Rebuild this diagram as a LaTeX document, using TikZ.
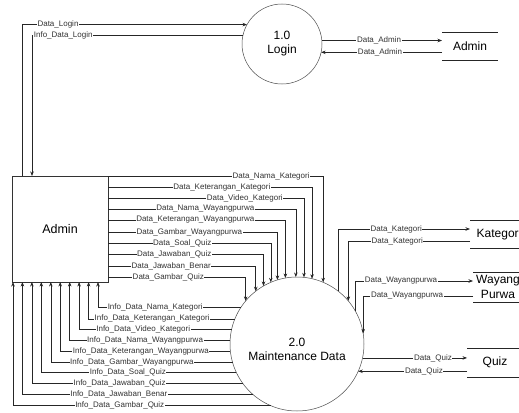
\documentclass[tikz,border=0pt]{standalone}
\usepackage{fontspec}
\setmainfont{Liberation Sans}
\usetikzlibrary{arrows.meta}
\begin{document}
\begin{tikzpicture}[x=1pt,y=-1pt,
  flow/.style={draw=black!85, line width=0.6pt},
  arr/.style={flow, -{Stealth[length=4.5pt,width=3.5pt]}},
  lbl/.style={fill=white, inner sep=0.6pt, font=\fontsize{8}{8}\selectfont, text=black!80},
  process/.style={circle, draw=black!70, line width=0.5pt, inner sep=0pt, outer sep=0pt,
                  align=center, font=\fontsize{12}{14}\selectfont},
  ptext/.style={align=center, inner sep=0pt, font=\fontsize{12}{14}\selectfont},
  entity/.style={rectangle, draw=black!80, line width=0.6pt, inner sep=0pt, outer sep=0pt,
                 font=\fontsize{12.5}{14}\selectfont},
  store/.style={inner sep=0pt, outer sep=0pt, align=center, font=\fontsize{12}{14.5}\selectfont},
]
\fill[white] (0,0) rectangle (519,412);
\useasboundingbox (0,0) rectangle (519,412);

% external entity, processes and data stores
\node[entity, minimum width=96pt, minimum height=106pt] (admin) at (60,229) {Admin};
\node[process, minimum size=80pt] (login) at (282,44) {1.0\\Login};
\node[process, minimum size=134pt] (maint) at (297,344) {};
\node[ptext] (maint-text) at ([yshift=-5pt]maint.center) {2.0\\Maintenance Data};

\node[store, minimum width=56pt, minimum height=28pt] (sadmin) at (470,46) {Admin};
\node[store, minimum width=58pt, minimum height=28pt] (skat) at (499,234) {Kategori};
\node[store, minimum width=50pt, minimum height=30pt] (swp) at (498,287) {Wayang\\Purwa};
\node[store, minimum width=56pt, minimum height=29pt] (squiz) at (495,362.5) {Quiz};

% open-ended store outlines
\draw[flow] (sadmin.north west) -- (sadmin.north east) (sadmin.south west) -- (sadmin.south east);
\foreach \s in {skat,swp,squiz}
  \draw[flow] (\s.north west) -- ++(60,0) (\s.south west) -- ++(60,0);

% login flows
\draw[arr] ([xshift=10pt]admin.north west) |- (login.151.6) node[lbl,pos=0.58]{Data\_Login};
\draw[arr] (login.168.5) -| ([xshift=20pt]admin.north west) node[lbl,pos=0.426]{Info\_Data\_Login};
\draw[arr] (login.5.7) -- (login.5.7 -| sadmin.west) node[lbl,pos=0.476]{Data\_Admin};
\draw[arr] (login.348.5 -| sadmin.west) -- (login.348.5) node[lbl,pos=0.513]{Data\_Admin};

% data entered by the admin
\foreach \dy/\ang/\p/\txt in {
   0/67.2/0.379/Data\_Nama\_Kategori,
  11/77.1/0.279/Data\_Keterangan\_Kategori,
  22/84.9/0.349/Data\_Video\_Kategori,
  33/91.7/0.259/Data\_Nama\_Wayangpurwa,
  44/100.3/0.246/Data\_Keterangan\_Wayangpurwa,
  56/107.4/0.240/Data\_Gambar\_Wayangpurwa,
  67/113.8/0.228/Data\_Soal\_Quiz,
  78/120.5/0.213/Data\_Jawaban\_Quiz,
  90/128.8/0.214/Data\_Jawaban\_Benar,
 101/140.9/0.219/Data\_Gambar\_Quiz}
  \draw[arr] ([yshift=-\dy pt]admin.north east) -| (maint.\ang) node[lbl,pos=\p]{\txt};

% information returned to the admin
\foreach \ang/\dx/\p/\txt in {
  147.5/86/0.30/Info\_Data\_Nama\_Kategori,
  158.1/76.6/0.283/Info\_Data\_Keterangan\_Kategori,
  167.9/67.1/0.290/Info\_Data\_Video\_Kategori,
  177.4/57.7/0.265/Info\_Data\_Nama\_Wayangpurwa,
  186.9/48.2/0.263/Info\_Data\_Keterangan\_Wayangpurwa,
  196.5/38.8/0.277/Info\_Data\_Gambar\_Wayangpurwa,
  205.6/29.3/0.278/Info\_Data\_Soal\_Quiz,
  216.7/19.9/0.292/Info\_Data\_Jawaban\_Quiz,
  229.6/10.4/0.291/Info\_Data\_Jawaban\_Benar,
  247.7/1/0.293/Info\_Data\_Gambar\_Quiz}
  \draw[arr] (maint.\ang) -| ([xshift=\dx pt]admin.south west) node[lbl,pos=\p]{\txt};

% store flows
\draw[arr] (maint.52.3) |- ([yshift=5pt]skat.west) node[lbl,pos=0.72]{Data\_Kategori};
\draw[arr] ([yshift=-7pt]skat.west) -| (maint.40.4) node[lbl,pos=0.299]{Data\_Kategori};
\draw[arr] (maint.30) |- ([yshift=6pt]swp.west) node[lbl,pos=0.695]{Data\_Wayangpurwa};
\draw[arr] ([yshift=-9pt]swp.west) -| (maint.9.9) node[lbl,pos=0.3]{Data\_Wayangpurwa};
\draw[arr] (maint.348.8) -- (maint.348.8 -| squiz.west) node[lbl,pos=0.674]{Data\_Quiz};
\draw[arr] (maint.336.2 -| squiz.west) -- (maint.336.2) node[lbl,pos=0.396]{Data\_Quiz};
\end{tikzpicture}
\end{document}
